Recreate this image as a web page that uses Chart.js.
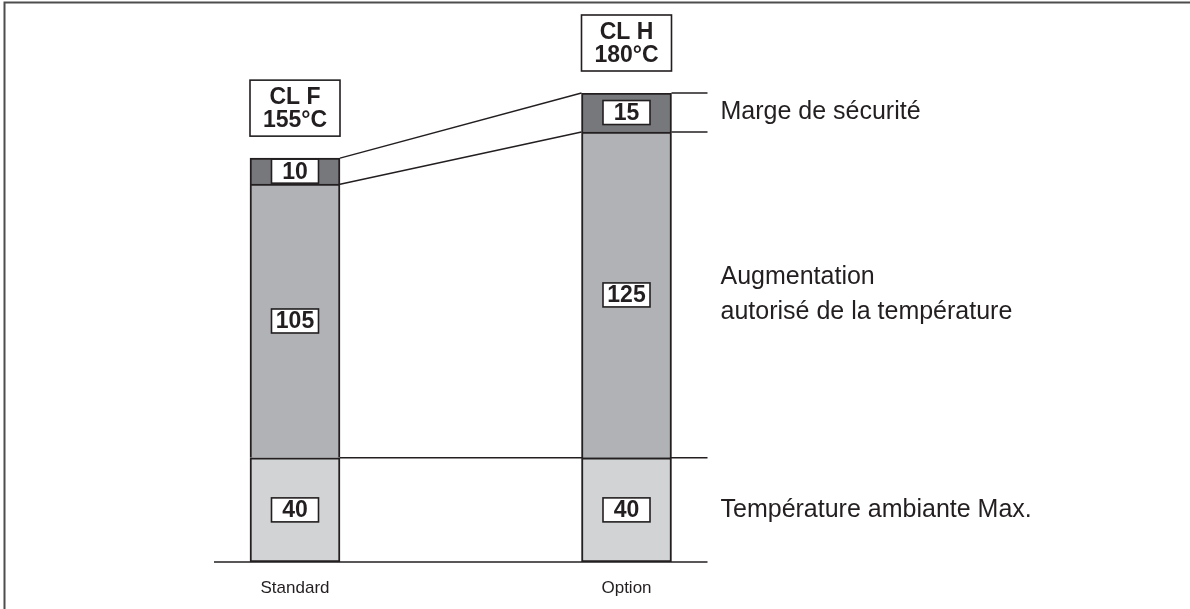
<!DOCTYPE html>
<html>
<head>
<meta charset="utf-8">
<script src="https://cdn.jsdelivr.net/npm/chart.js@4.4.1/dist/chart.umd.min.js"></script>
<style>
  html, body { margin: 0; padding: 0; background: #fff; }
  #wrap { position: relative; width: 1190px; height: 609px; }
</style>
</head>
<body>
<div id="wrap"><canvas id="c"></canvas></div>
<script>
// Temperature budget per insulation class (°C)
const categories = ['Standard', 'Option'];
const insulationClasses = ['CL F', 'CL H'];
const ambientMax = [40, 40];
const allowedRise = [105, 125];
const safetyMargin = [10, 15];
const seriesNames = [
  ['Température ambiante Max.'],
  ['Augmentation', 'autorisé de la température'],
  ['Marge de sécurité']
];

const totals = categories.map((_, i) => ambientMax[i] + allowedRise[i] + safetyMargin[i]);

const INK = '#231f20';
const FONT = '"Liberation Sans", Arial, Helvetica, sans-serif';
const FILLS = ['#d2d3d5', '#b1b2b5', '#77787b'];

function segLine(ctx, x1, y1, x2, y2) {
  ctx.beginPath();
  ctx.moveTo(x1, y1);
  ctx.lineTo(x2, y2);
  ctx.stroke();
}

function edges(bar) {
  return { left: bar.x - bar.width / 2, right: bar.x + bar.width / 2 };
}

function labelBox(ctx, cx, cy, w, h, lines, font, lineGap) {
  ctx.fillStyle = '#fff';
  ctx.fillRect(cx - w / 2, cy - h / 2, w, h);
  ctx.strokeStyle = INK;
  ctx.lineWidth = 1.6;
  ctx.strokeRect(cx - w / 2, cy - h / 2, w, h);
  ctx.fillStyle = INK;
  ctx.font = font;
  ctx.textAlign = 'center';
  ctx.textBaseline = 'middle';
  const start = cy - (lines.length - 1) * lineGap / 2;
  lines.forEach((t, k) => ctx.fillText(t, cx, start + k * lineGap + 1));
}

const diagram = {
  id: 'diagram',
  beforeDraw(chart) {
    // page frame
    const ctx = chart.ctx;
    ctx.save();
    ctx.strokeStyle = '#4d4d4f';
    ctx.lineWidth = 2;
    ctx.beginPath();
    ctx.moveTo(4.5, chart.height);
    ctx.lineTo(4.5, 2.5);
    ctx.lineTo(chart.width, 2.5);
    ctx.stroke();
    ctx.restore();
  },
  beforeDatasetsDraw(chart) {
    // connector and level lines behind the bars
    const ctx = chart.ctx;
    const yScale = chart.scales.y;
    const low = chart.getDatasetMeta(0).data;
    const mid = chart.getDatasetMeta(1).data;
    const top = chart.getDatasetMeta(2).data;
    const a = edges(low[0]), b = edges(low[1]);
    const ext = 36;
    ctx.save();
    ctx.strokeStyle = INK;
    ctx.lineWidth = 1.5;
    const y0 = yScale.getPixelForValue(0);
    segLine(ctx, a.left - ext, y0, b.right + ext, y0);
    segLine(ctx, a.right, low[0].y, b.right + ext, low[1].y);
    segLine(ctx, a.right, mid[0].y, b.left, mid[1].y);
    segLine(ctx, b.right, mid[1].y, b.right + ext, mid[1].y);
    segLine(ctx, a.right, top[0].y, b.left, top[1].y);
    segLine(ctx, b.right, top[1].y, b.right + ext, top[1].y);
    ctx.restore();
  },
  afterDatasetsDraw(chart) {
    const ctx = chart.ctx;
    ctx.save();
    // value boxes inside each segment
    chart.data.datasets.forEach((ds, d) => {
      chart.getDatasetMeta(d).data.forEach((bar, i) => {
        const cy = (bar.y + bar.base) / 2;
        labelBox(ctx, bar.x, cy, 47, 24, [String(ds.data[i])], 'bold 23px ' + FONT, 0);
      });
    });
    // class headers above each stack
    const top = chart.getDatasetMeta(2).data;
    top.forEach((bar, i) => {
      const h = 56;
      const cy = bar.y - 22 - h / 2;
      labelBox(ctx, bar.x, cy, bar.width, h,
        [insulationClasses[i], totals[i] + '°C'], 'bold 23px ' + FONT, 23.5);
    });
    // series names beside the last stack
    const last = categories.length - 1;
    ctx.fillStyle = INK;
    ctx.font = '25px ' + FONT;
    ctx.textAlign = 'left';
    ctx.textBaseline = 'middle';
    chart.data.datasets.forEach((ds, d) => {
      const bar = chart.getDatasetMeta(d).data[last];
      const x = edges(bar).right + 49;
      const cy = (bar.y + bar.base) / 2;
      const lines = seriesNames[d];
      const gap = 35;
      const start = cy - (lines.length - 1) * gap / 2;
      lines.forEach((t, k) => ctx.fillText(t, x, start + k * gap));
    });
    ctx.restore();
  }
};

const seriesData = [ambientMax, allowedRise, safetyMargin];

new Chart(document.getElementById('c'), {
  type: 'bar',
  data: {
    labels: categories,
    datasets: seriesData.map((values, d) => ({
      label: seriesNames[d].join(' '),
      data: values,
      backgroundColor: FILLS[d],
      borderColor: INK,
      borderWidth: { top: 2, left: 2, right: 2, bottom: d === 0 ? 2 : 0 },
      borderSkipped: false,
      barThickness: 90
    }))
  },
  options: {
    responsive: true,
    maintainAspectRatio: false,
    animation: false,
    events: [],
    layout: { padding: { left: 129.25, right: 397.75, top: 93, bottom: -5.4 } },
    plugins: {
      legend: { display: false },
      tooltip: { enabled: false }
    },
    scales: {
      x: {
        stacked: true,
        grid: { display: false, drawTicks: false },
        border: { display: false },
        ticks: { color: INK, padding: 16, font: { family: FONT, size: 17 } }
      },
      y: {
        stacked: true,
        display: false,
        min: 0,
        max: Math.max(...totals)
      }
    }
  },
  plugins: [diagram]
});
</script>
</body>
</html>
